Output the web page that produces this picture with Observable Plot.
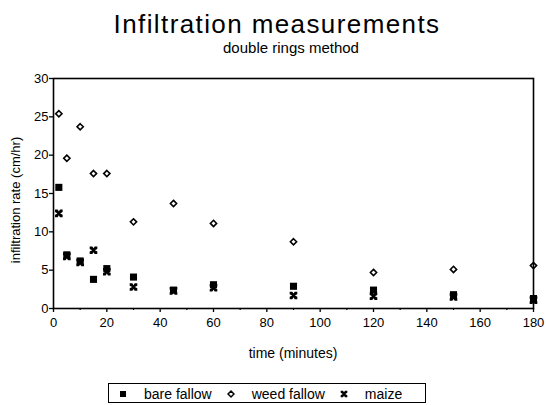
<!DOCTYPE html>
<html><head><meta charset="utf-8">
<script src="https://cdn.jsdelivr.net/npm/d3@7"></script>
<script src="https://cdn.jsdelivr.net/npm/@observablehq/plot@0.6"></script>
<style>
body{margin:0;background:#fff;width:546px;height:405px;overflow:hidden;position:relative;font-family:"Liberation Sans",Arial,Helvetica,sans-serif;color:#000}
.abs{position:absolute;white-space:nowrap}
#title{left:0;width:554px;top:9px;text-align:center;font-size:26px;letter-spacing:1.4px;line-height:30px}
#subtitle{left:0;width:582px;top:39px;text-align:center;font-size:15px;line-height:18px}
#chart{left:0;top:60px}
#xlabel{left:0;width:586px;top:344px;text-align:center;font-size:14px;line-height:18px}
#ylabel{left:16px;top:200px;font-size:13px;line-height:16px;transform:translate(-50%,-50%) rotate(-90deg)}
#legend{left:108px;top:383px;width:318px;height:20px;border:1.5px solid #000;box-sizing:border-box;display:flex;align-items:center;font-size:14px;line-height:18px;padding-left:9px;padding-top:1px}
#legend svg{display:block}
#legend span{margin-left:16px;margin-right:14px}
</style>
</head><body>
<div id="title" class="abs">Infiltration measurements</div>
<div id="subtitle" class="abs">double rings method</div>
<div id="chart" class="abs"></div>
<div id="xlabel" class="abs">time (minutes)</div>
<div id="ylabel" class="abs">infiltration rate (cm/hr)</div>
<div id="legend" class="abs"></div>
<script>
// Data
const times      = [2, 5, 10, 15, 20, 30, 45, 60, 90, 120, 150, 180];
const bareFallow = [15.8, 7.0, 6.2, 3.8, 5.2, 4.1, 2.4, 3.1, 2.9, 2.4, 1.8, 1.3];
const weedFallow = [25.4, 19.6, 23.7, 17.6, 17.6, 11.3, 13.7, 11.1, 8.7, 4.7, 5.1, 5.6];
const maize      = [12.4, 6.8, 6.0, 7.6, 4.8, 2.8, 2.3, 2.7, 1.7, 1.6, 1.5, 1.1];
const seriesNames = ["bare fallow", "weed fallow", "maize"];
const xTicks = [0, 20, 40, 60, 80, 100, 120, 140, 160, 180];
const xMinorTicks = [10, 30, 50, 70, 90, 110, 130, 150, 170];
const yTicks = [0, 5, 10, 15, 20, 25, 30];

const maizeSymbol = {
  draw(ctx, size) {
    const s = Math.sqrt(size) / 2;
    ctx.moveTo(-s, -s); ctx.lineTo(-s*0.3, -s); ctx.lineTo(0, -s*0.5); ctx.lineTo(s*0.3, -s); ctx.lineTo(s, -s);
    ctx.lineTo(s, -s*0.35); ctx.lineTo(s*0.35, 0);
    ctx.lineTo(s, s*0.35); ctx.lineTo(s, s); ctx.lineTo(s*0.3, s); ctx.lineTo(0, s*0.5); ctx.lineTo(-s*0.3, s);
    ctx.lineTo(-s, s); ctx.lineTo(-s, s*0.35);
    ctx.lineTo(-s*0.35, 0); ctx.lineTo(-s, -s*0.35); ctx.closePath();
  }
};

const rows = (vals, series) => times.map((t, i) => ({time: t, rate: vals[i], series}));
const bareRows = rows(bareFallow, seriesNames[0]);
const weedRows = rows(weedFallow, seriesNames[1]);
const maizeRows = rows(maize, seriesNames[2]);

const font = '"Liberation Sans", Arial, Helvetica, sans-serif';
const chart = Plot.plot({
  width: 546, height: 290,
  marginLeft: 53, marginRight: 13, marginTop: 18, marginBottom: 42,
  x: {domain: [0, 180]},
  y: {domain: [0, 30]},
  style: {fontFamily: font, fontSize: "13px", color: "#000", background: "#fff", overflow: "visible"},
  marks: [
    Plot.axisX({ticks: xTicks, tickSize: 4, tickPadding: 5, label: null, fontSize: 13, strokeWidth: 1.3}),
    Plot.axisX({ticks: xMinorTicks, tickSize: 2, tickFormat: () => "", label: null, strokeWidth: 1.2}),
    Plot.axisY({ticks: yTicks, tickSize: 4, tickPadding: 1, label: null, fontSize: 13, strokeWidth: 1.3}),
    Plot.frame({stroke: "#000", strokeWidth: 1.6}),
    Plot.dot(weedRows, {x: "time", y: "rate", symbol: "diamond2", r: 2.8, stroke: "#000", strokeWidth: 1.6, fill: "none"}),
    Plot.dot(bareRows, {x: "time", y: "rate", symbol: "square", r: 4, fill: "#000", stroke: "none"}),
    Plot.dot(maizeRows, {x: "time", y: "rate", symbol: maizeSymbol, r: 4.3, fill: "#000", stroke: "none"})
  ]
});
document.getElementById("chart").appendChild(chart);

// Legend
const legend = document.getElementById("legend");
const legendSymbols = [
  {path: d3.symbol(d3.symbolSquare, 36)(), fill: "#000", stroke: "none"},
  {path: d3.symbol(d3.symbolDiamond2, 22)(), fill: "none", stroke: "#000"},
  {path: d3.symbol(maizeSymbol, 44)(), fill: "#000", stroke: "none"}
];
seriesNames.forEach((name, i) => {
  const s = legendSymbols[i];
  const svg = d3.create("svg").attr("width", 10).attr("height", 10);
  svg.append("path").attr("transform", "translate(5,5)").attr("d", s.path)
    .attr("fill", s.fill).attr("stroke", s.stroke).attr("stroke-width", 1.5);
  legend.appendChild(svg.node());
  const span = document.createElement("span");
  span.textContent = name;
  legend.appendChild(span);
});
</script>
</body></html>
